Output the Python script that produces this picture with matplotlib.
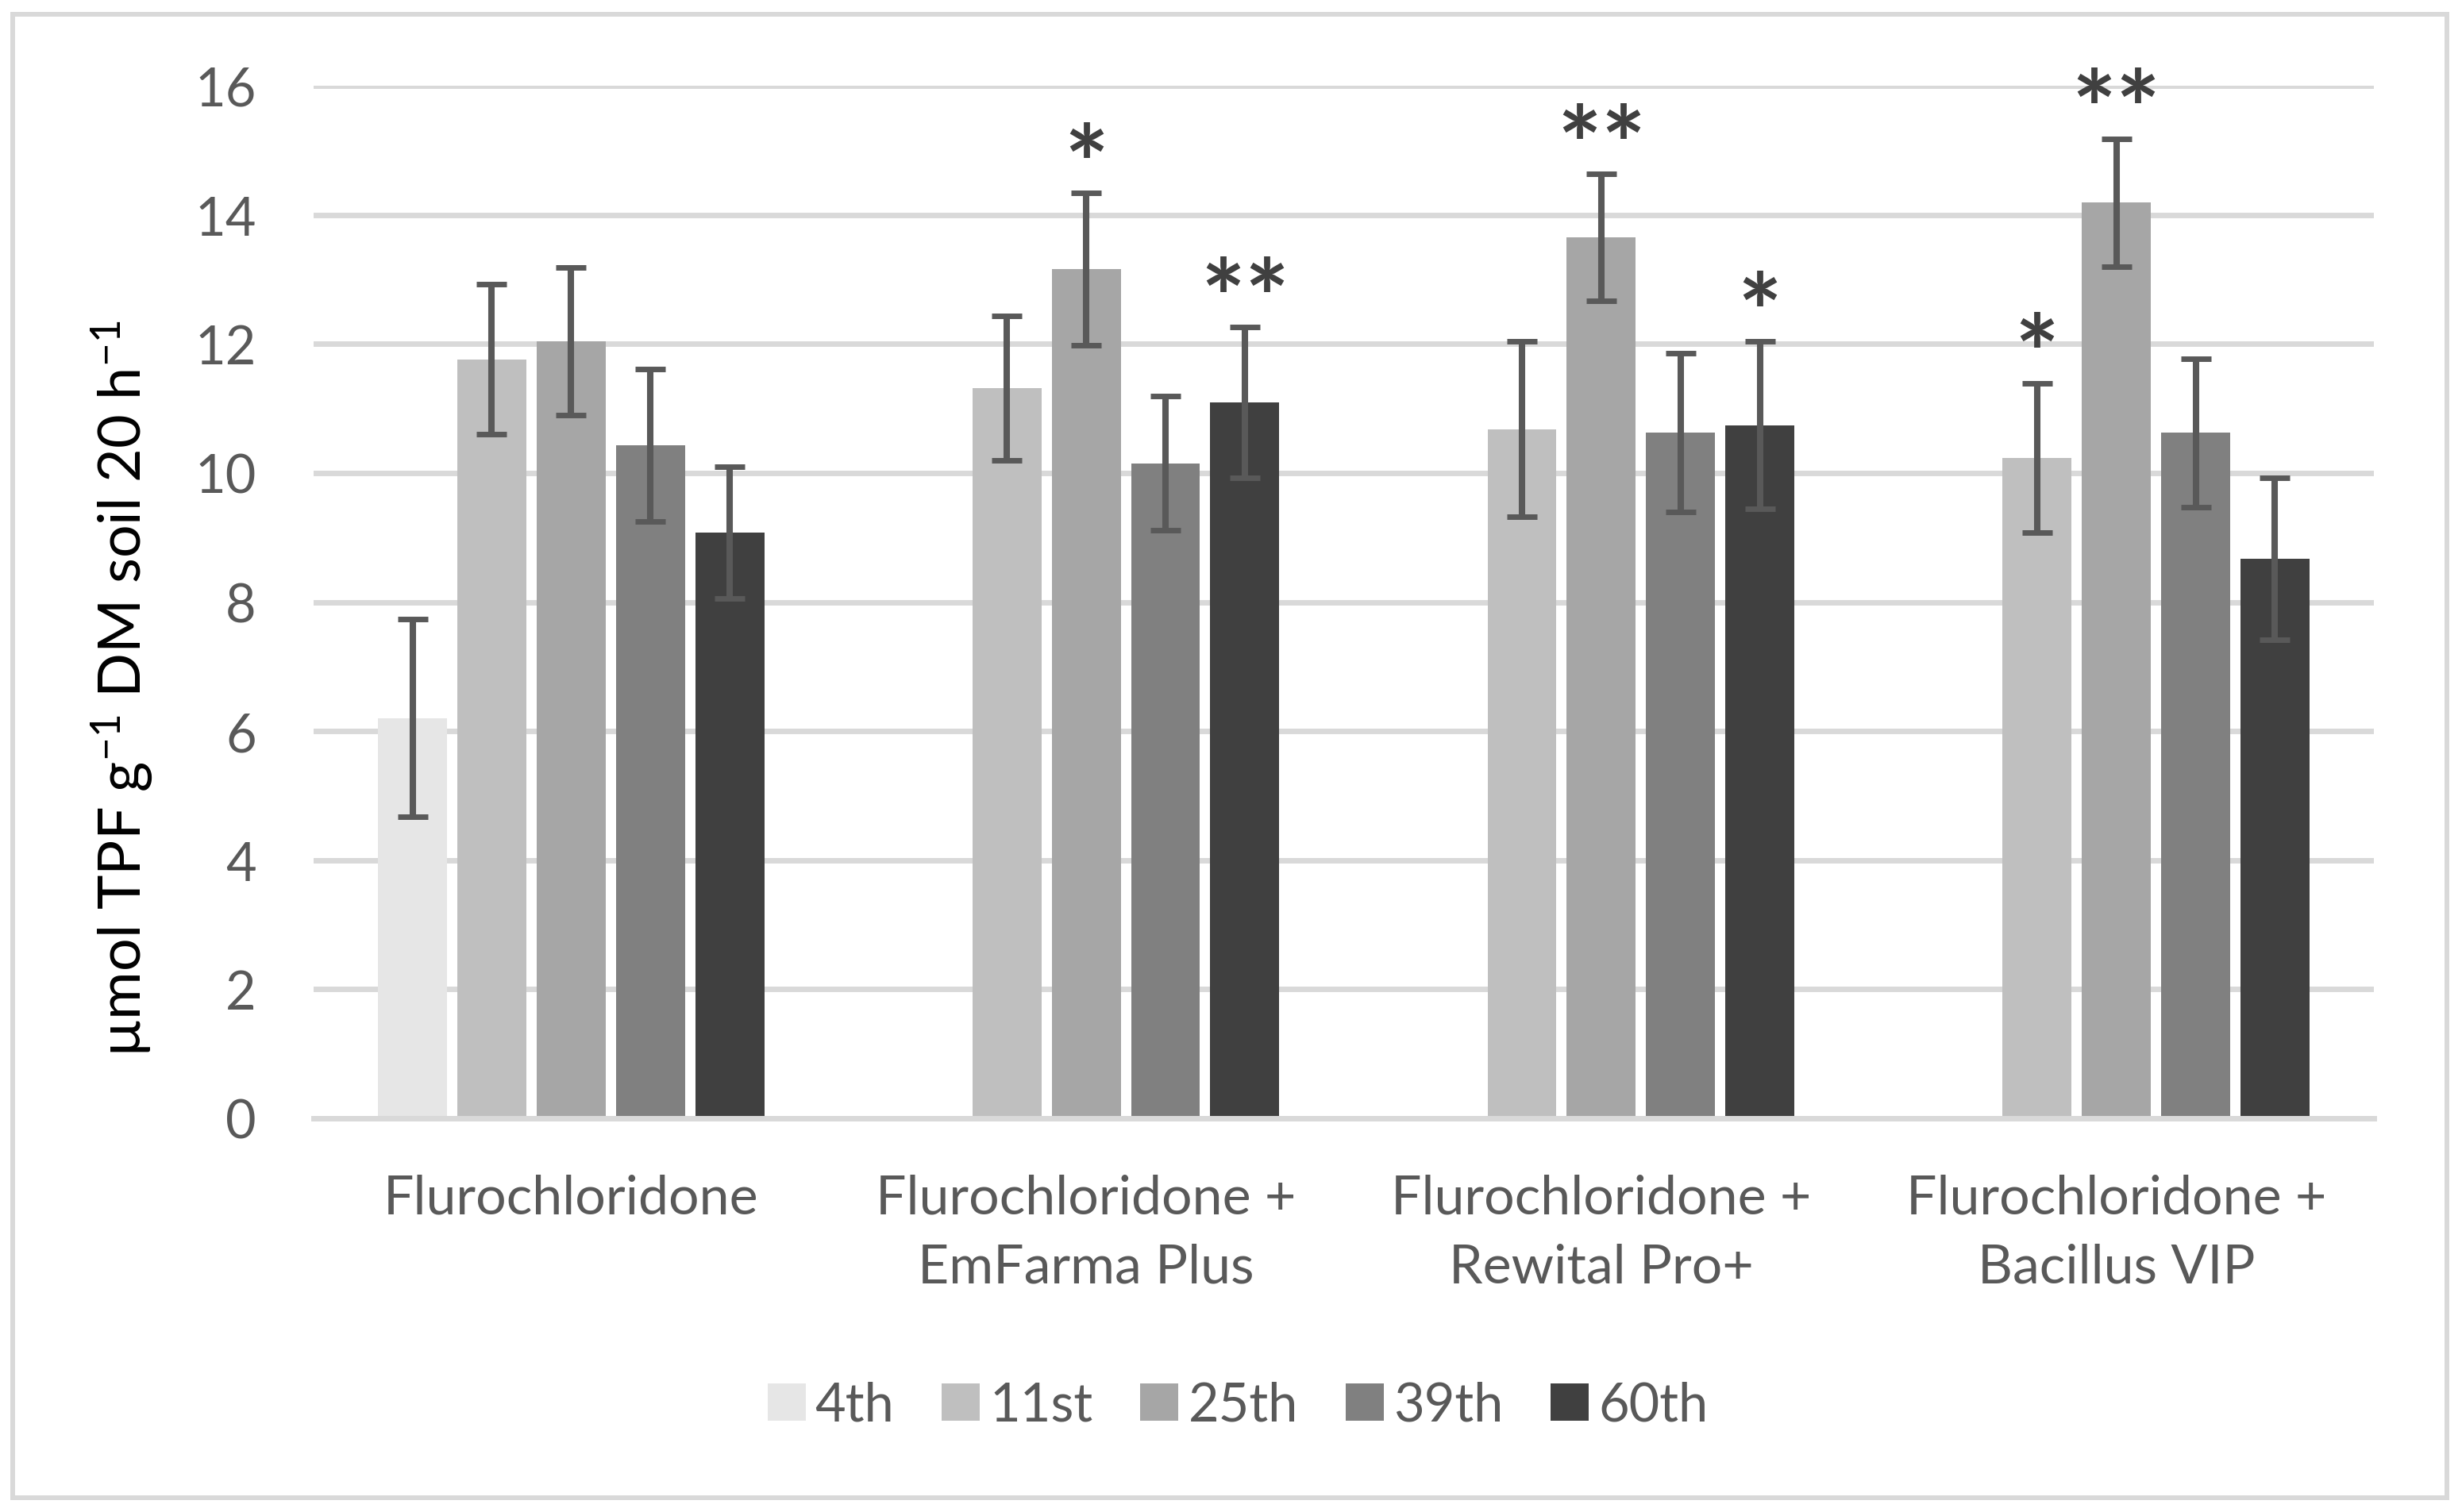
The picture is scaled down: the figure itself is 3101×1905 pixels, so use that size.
import numpy as np
import matplotlib
matplotlib.use('Agg')
import matplotlib.pyplot as plt
from matplotlib.patches import Rectangle

# ---------------- data ----------------
categories = ['Flurochloridone', 'Flurochloridone +\nEmFarma Plus',
              'Flurochloridone +\nRewital Pro+', 'Flurochloridone +\nBacillus VIP']
series = ['4th', '11st', '25th', '39th', '60th']
v4 = [6.20, np.nan, np.nan, np.nan]
v11 = [11.76, 11.31, 10.68, 10.23]
v25 = [12.04, 13.16, 13.65, 14.19]
v39 = [10.43, 10.15, 10.63, 10.62]
v60 = [9.08, 11.09, 10.74, 8.67]
e4 = [1.53, np.nan, np.nan, np.nan]
e11 = [1.16, 1.12, 1.36, 1.16]
e25 = [1.14, 1.18, 0.98, 0.99]
e39 = [1.18, 1.04, 1.23, 1.15]
e60 = [1.02, 1.17, 1.30, 1.26]
# significance marks
sig_cat = [1, 1, 2, 2, 3, 3]
sig_ser = [2, 4, 2, 4, 1, 2]
sig_txt = ['*', '**', '**', '*', '*', '**']
yticks = [0, 2, 4, 6, 8, 10, 12, 14, 16]

values = [v4, v11, v25, v39, v60]
errors = [e4, e11, e25, e39, e60]
colors = ['#e6e6e6', '#bfbfbf', '#a6a6a6', '#808080', '#404040']

FONT = 'Lato'
plt.rcParams['font.family'] = [FONT, 'DejaVu Sans']
plt.rcParams['mathtext.fontset'] = 'custom'
plt.rcParams['mathtext.rm'] = FONT
plt.rcParams['mathtext.it'] = FONT + ':italic'
plt.rcParams['mathtext.bf'] = FONT + ':bold'

W, H = 3101, 1906
fig = plt.figure(figsize=(W / 100, H / 100), dpi=100)
ax = fig.add_axes([395 / W, 1 - 1410 / H, (2990 - 395) / W, (1410 - 109) / H])

step = 0.154
width = 0.134
x = np.arange(len(categories))
for i, (vals, errs, col, name) in enumerate(zip(values, errors, colors, series)):
    xs = x + (i - 2) * step
    vals = np.array(vals, dtype=float)
    errs = np.array(errs, dtype=float)
    mask = ~np.isnan(vals)
    ax.bar(xs[mask], vals[mask], width=width, color=col, label=name, zorder=2)
    ax.errorbar(xs[mask], vals[mask], yerr=errs[mask], fmt='none', ecolor='#595959',
                elinewidth=5.8, capsize=14, capthick=5, zorder=3)

for c, s, t in zip(sig_cat, sig_ser, sig_txt):
    xp = x[c] + (s - 2) * step
    yp = values[s][c] + errors[s][c] + 0.35
    ax.text(xp, yp, t, ha='center', va='center', fontsize=95, color='#404040',
            fontweight='bold')

ax.set_xlim(-0.5, 3.5)
ax.set_ylim(0, 16)
ax.set_yticks(yticks)
ax.set_xticks(x)
ax.set_xticklabels(categories, linespacing=1.5)
ax.yaxis.grid(True, color='#d9d9d9', linewidth=5, zorder=0)
ax.set_axisbelow(True)
for sp in ['top', 'right', 'left']:
    ax.spines[sp].set_visible(False)
ax.spines['bottom'].set_color('#d9d9d9')
ax.spines['bottom'].set_linewidth(5)
ax.tick_params(axis='both', length=0, labelsize=48, labelcolor='#595959')
ax.tick_params(axis='x', labelsize=49)
ax.tick_params(axis='y', pad=52)
ax.tick_params(axis='x', pad=50)

fig.text(154 / W, 1 - 868 / H, r'µmol TPF g$^{-1}$ DM soil 20 h$^{-1}$',
         rotation=90, ha='center', va='center', fontsize=53, color='black')

leg = fig.legend(loc='center', bbox_to_anchor=(1559 / W, 1 - 1772 / H), ncol=5,
                 frameon=False, fontsize=48, handlelength=0.72, handleheight=0.72,
                 handletextpad=0.18, columnspacing=0.9, borderpad=0)
for t in leg.get_texts():
    t.set_color('#595959')

fig.patches.append(Rectangle((16 / W, 1 - 1888 / H), (3082 - 16) / W, (1888 - 19) / H,
                             transform=fig.transFigure, fill=False,
                             edgecolor='#d9d9d9', linewidth=4.3))

fig.savefig('out.png', dpi=100, facecolor='white')
